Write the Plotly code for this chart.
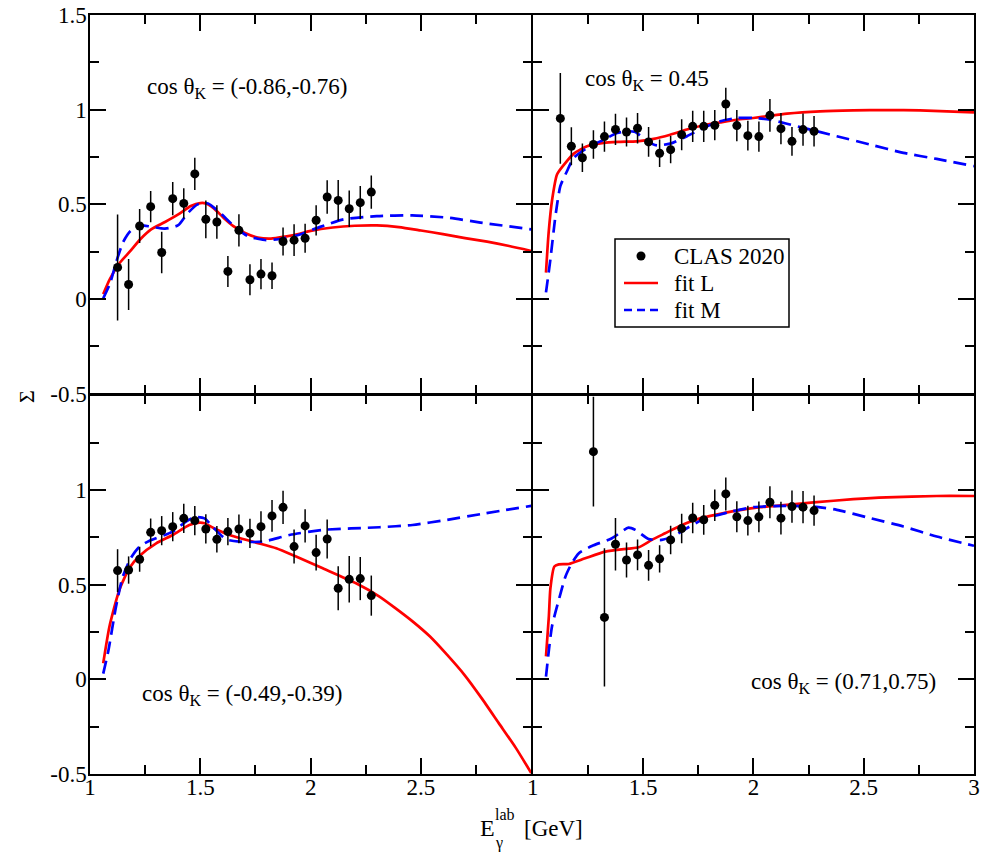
import plotly.graph_objects as go

# ---------------- data ----------------
E_data = [1.125, 1.175, 1.225, 1.275, 1.325, 1.375, 1.425, 1.475, 1.525, 1.575, 1.625, 1.675,
          1.725, 1.775, 1.825, 1.875, 1.925, 1.975, 2.025, 2.075, 2.125, 2.175, 2.225, 2.275]
E_data_br = [1.275, 1.325, 1.375, 1.425, 1.475, 1.525, 1.575, 1.625, 1.675, 1.725, 1.775,
             1.825, 1.875, 1.925, 1.975, 2.025, 2.075, 2.125, 2.175, 2.225, 2.275]

# top-left: cos theta = (-0.86,-0.76)
TL_S = [0.167, 0.077, 0.386, 0.488, 0.246, 0.530, 0.505, 0.661, 0.421, 0.407, 0.146, 0.363,
        0.102, 0.132, 0.123, 0.304, 0.311, 0.321, 0.416, 0.539, 0.521, 0.477, 0.509, 0.565]
TL_err = [0.28, 0.135, 0.09, 0.082, 0.11, 0.088, 0.08, 0.085, 0.10, 0.088, 0.082, 0.085,
          0.082, 0.08, 0.07, 0.074, 0.084, 0.077, 0.08, 0.088, 0.108, 0.096, 0.088, 0.088]
# top-right: cos theta = 0.45
TR_S = [0.954, 0.807, 0.746, 0.816, 0.858, 0.896, 0.882, 0.902, 0.830, 0.770, 0.789, 0.868,
        0.912, 0.912, 0.918, 1.030, 0.916, 0.863, 0.858, 0.970, 0.900, 0.833, 0.895, 0.886]
TR_err = [0.24, 0.10, 0.075, 0.075, 0.08, 0.082, 0.077, 0.08, 0.078, 0.072, 0.072, 0.082,
          0.082, 0.083, 0.08, 0.086, 0.083, 0.079, 0.08, 0.087, 0.083, 0.076, 0.085, 0.081]
# bottom-left: cos theta = (-0.49,-0.39)
BL_S = [0.574, 0.577, 0.634, 0.776, 0.785, 0.806, 0.850, 0.838, 0.794, 0.739, 0.780, 0.794,
        0.771, 0.806, 0.863, 0.908, 0.701, 0.810, 0.669, 0.741, 0.481, 0.528, 0.532, 0.442]
BL_err = [0.113, 0.072, 0.066, 0.073, 0.077, 0.077, 0.077, 0.077, 0.077, 0.07, 0.072, 0.076,
          0.077, 0.082, 0.084, 0.088, 0.09, 0.088, 0.095, 0.103, 0.116, 0.123, 0.114, 0.106]
# bottom-right: cos theta = (0.71,0.75)
BR_S = [1.202, 0.327, 0.713, 0.630, 0.657, 0.602, 0.636, 0.736, 0.796, 0.852, 0.842, 0.919,
        0.979, 0.858, 0.838, 0.858, 0.935, 0.851, 0.912, 0.909, 0.891]
BR_err = [0.29, 0.365, 0.139, 0.092, 0.081, 0.081, 0.072, 0.075, 0.078, 0.081, 0.079, 0.083,
          0.087, 0.082, 0.079, 0.081, 0.085, 0.086, 0.085, 0.085, 0.08]

# fit curves
TL_L_x = [1.06, 1.09, 1.136, 1.18, 1.228, 1.277, 1.34, 1.40, 1.457, 1.50, 1.525, 1.56, 1.605,
          1.65, 1.70, 1.76, 1.82, 1.885, 1.95, 2.0, 2.1, 2.2, 2.3, 2.4, 2.5, 2.6, 2.7, 2.8, 2.9, 3.0]
TL_L_y = [0.026, 0.105, 0.193, 0.25, 0.316, 0.368, 0.407, 0.447, 0.491, 0.507, 0.505, 0.48, 0.43,
          0.385, 0.35, 0.325, 0.319, 0.33, 0.345, 0.36, 0.378, 0.387, 0.389, 0.38, 0.362, 0.343,
          0.322, 0.303, 0.28, 0.254]
TL_M_x = [1.06, 1.09, 1.12, 1.15, 1.184, 1.23, 1.277, 1.34, 1.40, 1.44, 1.488, 1.535, 1.589,
          1.652, 1.714, 1.792, 1.854, 1.948, 2.04, 2.15, 2.3, 2.46, 2.62, 2.77, 3.0]
TL_M_y = [0.004, 0.08, 0.2, 0.3, 0.36, 0.389, 0.382, 0.372, 0.39, 0.45, 0.5, 0.505, 0.456,
          0.386, 0.333, 0.312, 0.316, 0.34, 0.38, 0.421, 0.438, 0.442, 0.43, 0.404, 0.368]

TR_L_x = [1.06, 1.072, 1.088, 1.11, 1.14, 1.186, 1.246, 1.322, 1.397, 1.472, 1.548, 1.623, 1.699,
          1.774, 1.85, 1.925, 2.0, 2.076, 2.152, 2.302, 2.453, 2.604, 2.755, 3.0]
TR_L_y = [0.14, 0.351, 0.526, 0.658, 0.707, 0.768, 0.807, 0.825, 0.83, 0.833, 0.846, 0.868, 0.895,
          0.918, 0.933, 0.947, 0.956, 0.968, 0.979, 0.991, 0.996, 0.998, 0.996, 0.986]
TR_M_x = [1.06, 1.08, 1.103, 1.125, 1.155, 1.186, 1.246, 1.322, 1.382, 1.427, 1.465, 1.518, 1.563,
          1.623, 1.699, 1.774, 1.85, 1.925, 2.0, 2.076, 2.152, 2.227, 2.378, 2.529, 2.68, 2.831, 3.0]
TR_M_y = [0.035, 0.21, 0.439, 0.596, 0.675, 0.746, 0.798, 0.842, 0.877, 0.886, 0.882, 0.833, 0.812,
          0.821, 0.86, 0.904, 0.939, 0.956, 0.956, 0.947, 0.926, 0.904, 0.86, 0.816, 0.772, 0.74, 0.702]

BL_L_x = [1.06, 1.088, 1.133, 1.178, 1.224, 1.30, 1.375, 1.45, 1.496, 1.519, 1.571, 1.632, 1.753,
          1.844, 1.934, 2.055, 2.206, 2.312, 2.384, 2.462, 2.54, 2.618, 2.696, 2.774, 2.852, 2.93, 3.0]
BL_L_y = [0.085, 0.278, 0.472, 0.586, 0.651, 0.718, 0.762, 0.815, 0.827, 0.824, 0.792, 0.762, 0.722,
          0.692, 0.648, 0.586, 0.507, 0.437, 0.376, 0.306, 0.227, 0.13, 0.025, -0.098, -0.23,
          -0.362, -0.495]
BL_M_x = [1.06, 1.083, 1.118, 1.148, 1.185, 1.224, 1.27, 1.375, 1.435, 1.473, 1.519, 1.56, 1.617,
          1.677, 1.783, 1.904, 2.055, 2.312, 2.462, 2.618, 2.774, 3.0]
BL_M_y = [0.03, 0.15, 0.384, 0.54, 0.64, 0.70, 0.732, 0.78, 0.833, 0.856, 0.85, 0.8, 0.739,
          0.727, 0.727, 0.762, 0.789, 0.803, 0.815, 0.842, 0.873, 0.916]

BR_L_x = [1.06, 1.073, 1.08, 1.098, 1.118, 1.163, 1.238, 1.329, 1.434, 1.48, 1.54, 1.60, 1.676,
          1.751, 1.827, 1.925, 2.031, 2.152, 2.273, 2.453, 2.604, 2.831, 3.0]
BR_L_y = [0.121, 0.332, 0.48, 0.596, 0.607, 0.609, 0.639, 0.674, 0.69, 0.697, 0.736, 0.771, 0.815,
          0.847, 0.868, 0.891, 0.909, 0.921, 0.934, 0.951, 0.961, 0.968, 0.968]
BR_M_x = [1.06, 1.087, 1.118, 1.148, 1.175, 1.208, 1.268, 1.359, 1.434, 1.465, 1.525, 1.585, 1.646,
          1.706, 1.782, 1.842, 1.902, 2.0, 2.152, 2.273, 2.378, 2.529, 2.68, 2.831, 3.0]
BR_M_y = [0.014, 0.278, 0.419, 0.542, 0.609, 0.665, 0.704, 0.745, 0.801, 0.789, 0.741, 0.736, 0.762,
          0.803, 0.85, 0.868, 0.886, 0.909, 0.916, 0.912, 0.895, 0.851, 0.807, 0.754, 0.705]

labels = ["cos θ<sub>K</sub> = (-0.86,-0.76)", "cos θ<sub>K</sub> = 0.45",
          "cos θ<sub>K</sub> = (-0.49,-0.39)", "cos θ<sub>K</sub> = (0.71,0.75)"]
legend_names = ["CLAS 2020", "fit L", "fit M"]
x_ticks = [1, 1.5, 2, 2.5, 3]
x_ticktext = ["1", "1.5", "2", "2.5", "3"]
y_ticks = [-0.5, 0, 0.5, 1, 1.5]
y_ticktext = ["-0.5", "0", "0.5", "1", "1.5"]

FONT = "Liberation Serif"
RED = "#ff0000"
BLUE = "#0000ff"
LW = 1.5

fig = go.Figure()

panels = [
    ("x3", "y3", E_data, TL_S, TL_err, TL_L_x, TL_L_y, TL_M_x, TL_M_y),
    ("x4", "y4", E_data, TR_S, TR_err, TR_L_x, TR_L_y, TR_M_x, TR_M_y),
    ("x", "y", E_data, BL_S, BL_err, BL_L_x, BL_L_y, BL_M_x, BL_M_y),
    ("x2", "y2", E_data_br, BR_S, BR_err, BR_L_x, BR_L_y, BR_M_x, BR_M_y),
]

for xa, ya, ex, s, err, lx, ly, mx, my in panels:
    fig.add_trace(go.Scatter(
        x=lx, y=ly, mode="lines", xaxis=xa, yaxis=ya, name=legend_names[1], showlegend=False,
        line=dict(color=RED, width=2.7, shape="spline", smoothing=0.6),
    ))
    fig.add_trace(go.Scatter(
        x=mx, y=my, mode="lines", xaxis=xa, yaxis=ya, name=legend_names[2], showlegend=False,
        line=dict(color=BLUE, width=2.7, dash="13px,7px", shape="spline", smoothing=0.6),
    ))
    fig.add_trace(go.Scatter(
        x=ex, y=s, mode="markers", xaxis=xa, yaxis=ya, name=legend_names[0], showlegend=False,
        marker=dict(color="black", size=9),
        error_y=dict(type="data", array=err, color="black", thickness=1.5, width=0),
    ))


def xaxis(domain, anchor, show_labels, tickvals, ticktext):
    return dict(
        domain=domain, anchor=anchor, range=[1, 3], showline=True, linecolor="black",
        linewidth=LW, mirror="ticks", ticks="inside", ticklen=16, tickwidth=1.5,
        tickcolor="black", tickvals=tickvals, ticktext=ticktext, automargin=False,
        showticklabels=show_labels, showgrid=False, zeroline=False,
        minor=dict(ticks="inside", ticklen=9, tickwidth=1.5, tickcolor="black",
                   tickvals=[1.25, 1.75, 2.25, 2.75], showgrid=False),
        tickfont=dict(family=FONT, size=23, color="black"), ticklabelstandoff=-8,
    )


def yaxis(domain, anchor, show_labels, tickvals, ticktext):
    return dict(
        domain=domain, anchor=anchor, range=[-0.5, 1.5], showline=True, linecolor="black",
        linewidth=LW, mirror="ticks", ticks="inside", ticklen=16, tickwidth=1.5,
        tickcolor="black", tickvals=tickvals, ticktext=ticktext, automargin=False,
        showticklabels=show_labels, showgrid=False, zeroline=False,
        minor=dict(ticks="inside", ticklen=9, tickwidth=1.5, tickcolor="black",
                   tickvals=[-0.25, 0.25, 0.75, 1.25], showgrid=False),
        tickfont=dict(family=FONT, size=23, color="black"), ticklabelstandoff=-3,
    )


L, R, T, B = 90, 22, 15, 78
PW = 996 - L - R
PH = 852 - T - B
xm = 442 / PW
ym = 379.5 / PH
gx = (LW / 2) / PW
gy = (LW / 2) / PH
XL = [0, xm - gx]
XR = [xm + gx, 1]
YB = [0, ym - gy]
YT = [ym + gy, 1]

fig.update_layout(
    width=996, height=852,
    margin=dict(l=L, r=R, t=T, b=B, autoexpand=False),
    paper_bgcolor="white", plot_bgcolor="white",
    font=dict(family=FONT, size=22, color="black"),
    showlegend=False,
    xaxis=xaxis(XL, "y", True, x_ticks[:4], x_ticktext[:4]),
    yaxis=yaxis(YB, "x", True, y_ticks[:4], y_ticktext[:4]),
    xaxis2=xaxis(XR, "y2", True, x_ticks, x_ticktext),
    yaxis2=yaxis(YB, "x2", False, y_ticks, y_ticktext),
    xaxis3=xaxis(XL, "y3", False, x_ticks, x_ticktext),
    yaxis3=yaxis(YT, "x3", True, y_ticks, y_ticktext),
    xaxis4=xaxis(XR, "y4", False, x_ticks, x_ticktext),
    yaxis4=yaxis(YT, "x4", False, y_ticks, y_ticktext),
)


def px(xp):
    return (xp - L) / PW


def py(yp):
    return 1 - (yp - T) / PH


# manual legend (box, symbols, texts)
fig.add_shape(type="rect", xref="paper", yref="paper", x0=px(615), x1=px(789), y0=py(239), y1=py(327),
              line=dict(color="black", width=1.5), fillcolor="white", layer="above")
fig.add_shape(type="circle", xref="paper", yref="paper", x0=px(636.5), x1=px(645.5), y0=py(251.5),
              y1=py(260.5), line=dict(color="black", width=0), fillcolor="black", layer="above")
fig.add_shape(type="line", xref="paper", yref="paper", x0=px(624), x1=px(658), y0=py(283), y1=py(283),
              line=dict(color=RED, width=2.7), layer="above")
fig.add_shape(type="line", xref="paper", yref="paper", x0=px(624), x1=px(658), y0=py(310), y1=py(310),
              line=dict(color=BLUE, width=2.7, dash="8px,5px"), layer="above")
for name, yp in zip(legend_names, [256, 283, 310]):
    fig.add_annotation(x=px(672), y=py(yp), xref="paper", yref="paper", text=name,
                       showarrow=False, xanchor="left", yanchor="middle",
                       font=dict(family=FONT, size=23, color="black"))

ann_pos = [(145, 88), (583, 80), (140, 695), (749, 683)]
for txt, (xp, yp) in zip(labels, ann_pos):
    fig.add_annotation(x=px(xp), y=py(yp), xref="paper", yref="paper", text=txt,
                       showarrow=False, xanchor="left", yanchor="middle",
                       font=dict(family=FONT, size=23, color="black"))

# axis titles
fig.add_annotation(x=px(26), y=py(397), xref="paper", yref="paper", text="Σ",
                   textangle=-90, showarrow=False, xanchor="center", yanchor="middle",
                   font=dict(family=FONT, size=22, color="black"))
fig.add_annotation(x=px(478), y=py(828), xref="paper", yref="paper", text="E",
                   showarrow=False, xanchor="left", yanchor="middle",
                   font=dict(family=FONT, size=24, color="black"))
fig.add_annotation(x=px(493), y=py(814), xref="paper", yref="paper", text="lab",
                   showarrow=False, xanchor="left", yanchor="middle",
                   font=dict(family=FONT, size=16, color="black"))
fig.add_annotation(x=px(493), y=py(843), xref="paper", yref="paper", text="γ",
                   showarrow=False, xanchor="left", yanchor="middle",
                   font=dict(family=FONT, size=16, color="black"))
fig.add_annotation(x=px(522), y=py(828), xref="paper", yref="paper", text="[GeV]",
                   showarrow=False, xanchor="left", yanchor="middle",
                   font=dict(family=FONT, size=23, color="black"))

fig.write_html("out.html")
